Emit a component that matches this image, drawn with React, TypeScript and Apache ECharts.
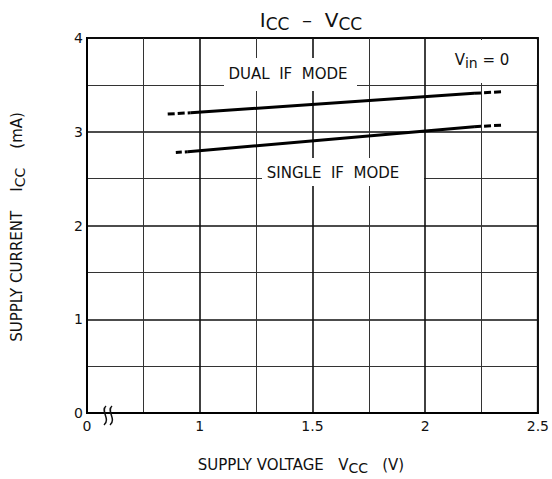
import React, { useEffect, useRef } from "react";
import * as echarts from "echarts";

// x axis uses a break: the left edge (0.5 V of real scale) is labelled "0"
const xTickValues = [0.5, 1, 1.5, 2, 2.5];
const xTickLabels = ["0", "1", "1.5", "2", "2.5"];
const yTickLabels = ["0", "1", "2", "3", "4"];

// DUAL IF MODE curve (V, mA)
const dualDashLeft = [[0.858, 3.189], [0.96, 3.203]];
const dualSolid = [[0.96, 3.203], [2.217, 3.41]];
const dualDashRight = [[2.217, 3.41], [2.339, 3.427]];

// SINGLE IF MODE curve (V, mA)
const singleDashLeft = [[0.894, 2.779], [0.947, 2.787]];
const singleSolid = [[0.947, 2.787], [2.217, 3.054]];
const singleDashRight = [[2.217, 3.054], [2.339, 3.07]];

const FONT = "DejaVu Sans";

export default function App() {
  const ref = useRef<HTMLDivElement>(null);
  useEffect(() => {
    if (!ref.current) return;
    const chart = echarts.init(ref.current, null, { renderer: "svg" });
    const mkLine = (data: number[][], dash: any) => ({
      type: "line",
      data,
      symbol: "none",
      silent: true,
      lineStyle: { color: "#000", width: 3, type: dash },
      z: 3,
    });
    const txt = { fontFamily: FONT, fill: "#111" };
    const sub = (main: number, s: number, shift: number) => ({
      a: { fontFamily: FONT, fontSize: main, fill: "#111", verticalAlign: "bottom", padding: [0, 0, shift, 0] },
      b: { fontFamily: FONT, fontSize: s, fill: "#111", verticalAlign: "bottom" },
    });
    chart.setOption({
      animation: false,
      backgroundColor: "#fff",
      grid: {
        left: 87,
        right: 13,
        top: 38,
        bottom: 66,
        show: true,
        borderColor: "#000",
        borderWidth: 2,
      },
      xAxis: {
        type: "value",
        min: 0.5,
        max: 2.5,
        interval: 0.5,
        axisLine: { show: true, onZero: false, lineStyle: { color: "#000", width: 2 } },
        axisTick: { show: false },
        minorTick: { show: false, splitNumber: 2 },
        splitLine: { show: true, lineStyle: { color: "#111", width: 1.6 } },
        minorSplitLine: { show: true, lineStyle: { color: "#333", width: 1 } },
        axisLabel: {
          fontFamily: FONT,
          fontSize: 14,
          color: "#111",
          margin: 6,
          formatter: (v: number) => {
            const i = xTickValues.findIndex((t) => Math.abs(t - v) < 1e-6);
            return i >= 0 ? xTickLabels[i] : "";
          },
        },
      },
      yAxis: {
        type: "value",
        min: 0,
        max: 4,
        interval: 1,
        axisLine: { show: true, lineStyle: { color: "#000", width: 2 } },
        axisTick: { show: false },
        minorTick: { show: false, splitNumber: 2 },
        splitLine: { show: true, lineStyle: { color: "#111", width: 1.6 } },
        minorSplitLine: { show: true, lineStyle: { color: "#333", width: 1 } },
        axisLabel: {
          fontFamily: FONT,
          fontSize: 14,
          color: "#111",
          margin: 4,
          formatter: (v: number) => yTickLabels[Math.round(v)] ?? "",
        },
      },
      series: [
        mkLine(dualDashLeft, [7, 3]),
        mkLine(dualSolid, "solid"),
        mkLine(dualDashRight, [7, 3]),
        mkLine(singleDashLeft, [6, 3]),
        mkLine(singleSolid, "solid"),
        mkLine(singleDashRight, [7, 3]),
      ],
      graphic: [
        // title
        {
          type: "text",
          x: 311,
          y: 21,
          z: 10,
          style: {
            text: "{a|I}{b|CC}{a|  –  V}{b|CC}",
            align: "center",
            verticalAlign: "middle",
            rich: sub(20, 17, 3),
          },
        },
        // label boxes
        { type: "rect", z: 5, shape: { x: 224, y: 58, width: 133, height: 33 }, style: { fill: "#fff" } },
        {
          type: "text",
          x: 288,
          y: 74,
          z: 10,
          style: { ...txt, text: "DUAL  IF  MODE", fontSize: 15, align: "center", verticalAlign: "middle" },
        },
        { type: "rect", z: 5, shape: { x: 262, y: 158, width: 162, height: 28 }, style: { fill: "#fff" } },
        {
          type: "text",
          x: 333,
          y: 173,
          z: 10,
          style: { ...txt, text: "SINGLE  IF  MODE", fontSize: 15, align: "center", verticalAlign: "middle" },
        },
        // Vin = 0 box
        { type: "rect", z: 5, shape: { x: 428, y: 40, width: 109, height: 43 }, style: { fill: "#fff" } },
        {
          type: "text",
          x: 482,
          y: 61,
          z: 10,
          style: {
            text: "{a|V}{b|in}{a| = 0}",
            align: "center",
            verticalAlign: "middle",
            rich: sub(15, 14, 3),
          },
        },
        // x axis name
        {
          type: "text",
          x: 301,
          y: 466,
          z: 10,
          style: {
            text: "{a|SUPPLY VOLTAGE   V}{b|CC}{a|   (V)}",
            align: "center",
            verticalAlign: "middle",
            rich: sub(15, 14, 3),
          },
        },
        // y axis name
        {
          type: "text",
          x: 18,
          y: 227,
          rotation: Math.PI / 2,
          z: 10,
          style: {
            text: "{a|SUPPLY CURRENT    I}{b|CC}{a|    (mA)}",
            align: "center",
            verticalAlign: "middle",
            rich: sub(15, 14, 3),
          },
        },
        // axis break mark
        {
          type: "bezierCurve",
          z: 10,
          shape: { x1: 106, y1: 406, cpx1: 100, cpy1: 411, cpx2: 111, cpy2: 419, x2: 104, y2: 425 },
          style: { stroke: "#111", lineWidth: 1.5, fill: null },
        },
        {
          type: "bezierCurve",
          z: 10,
          shape: { x1: 112, y1: 406, cpx1: 106, cpy1: 411, cpx2: 117, cpy2: 419, x2: 110, y2: 425 },
          style: { stroke: "#111", lineWidth: 1.5, fill: null },
        },
      ],
    });
    return () => chart.dispose();
  }, []);
  return (
    <div
      ref={ref}
      style={{ position: "fixed", left: 0, top: 0, width: 552, height: 479, background: "#fff" }}
    />
  );
}
